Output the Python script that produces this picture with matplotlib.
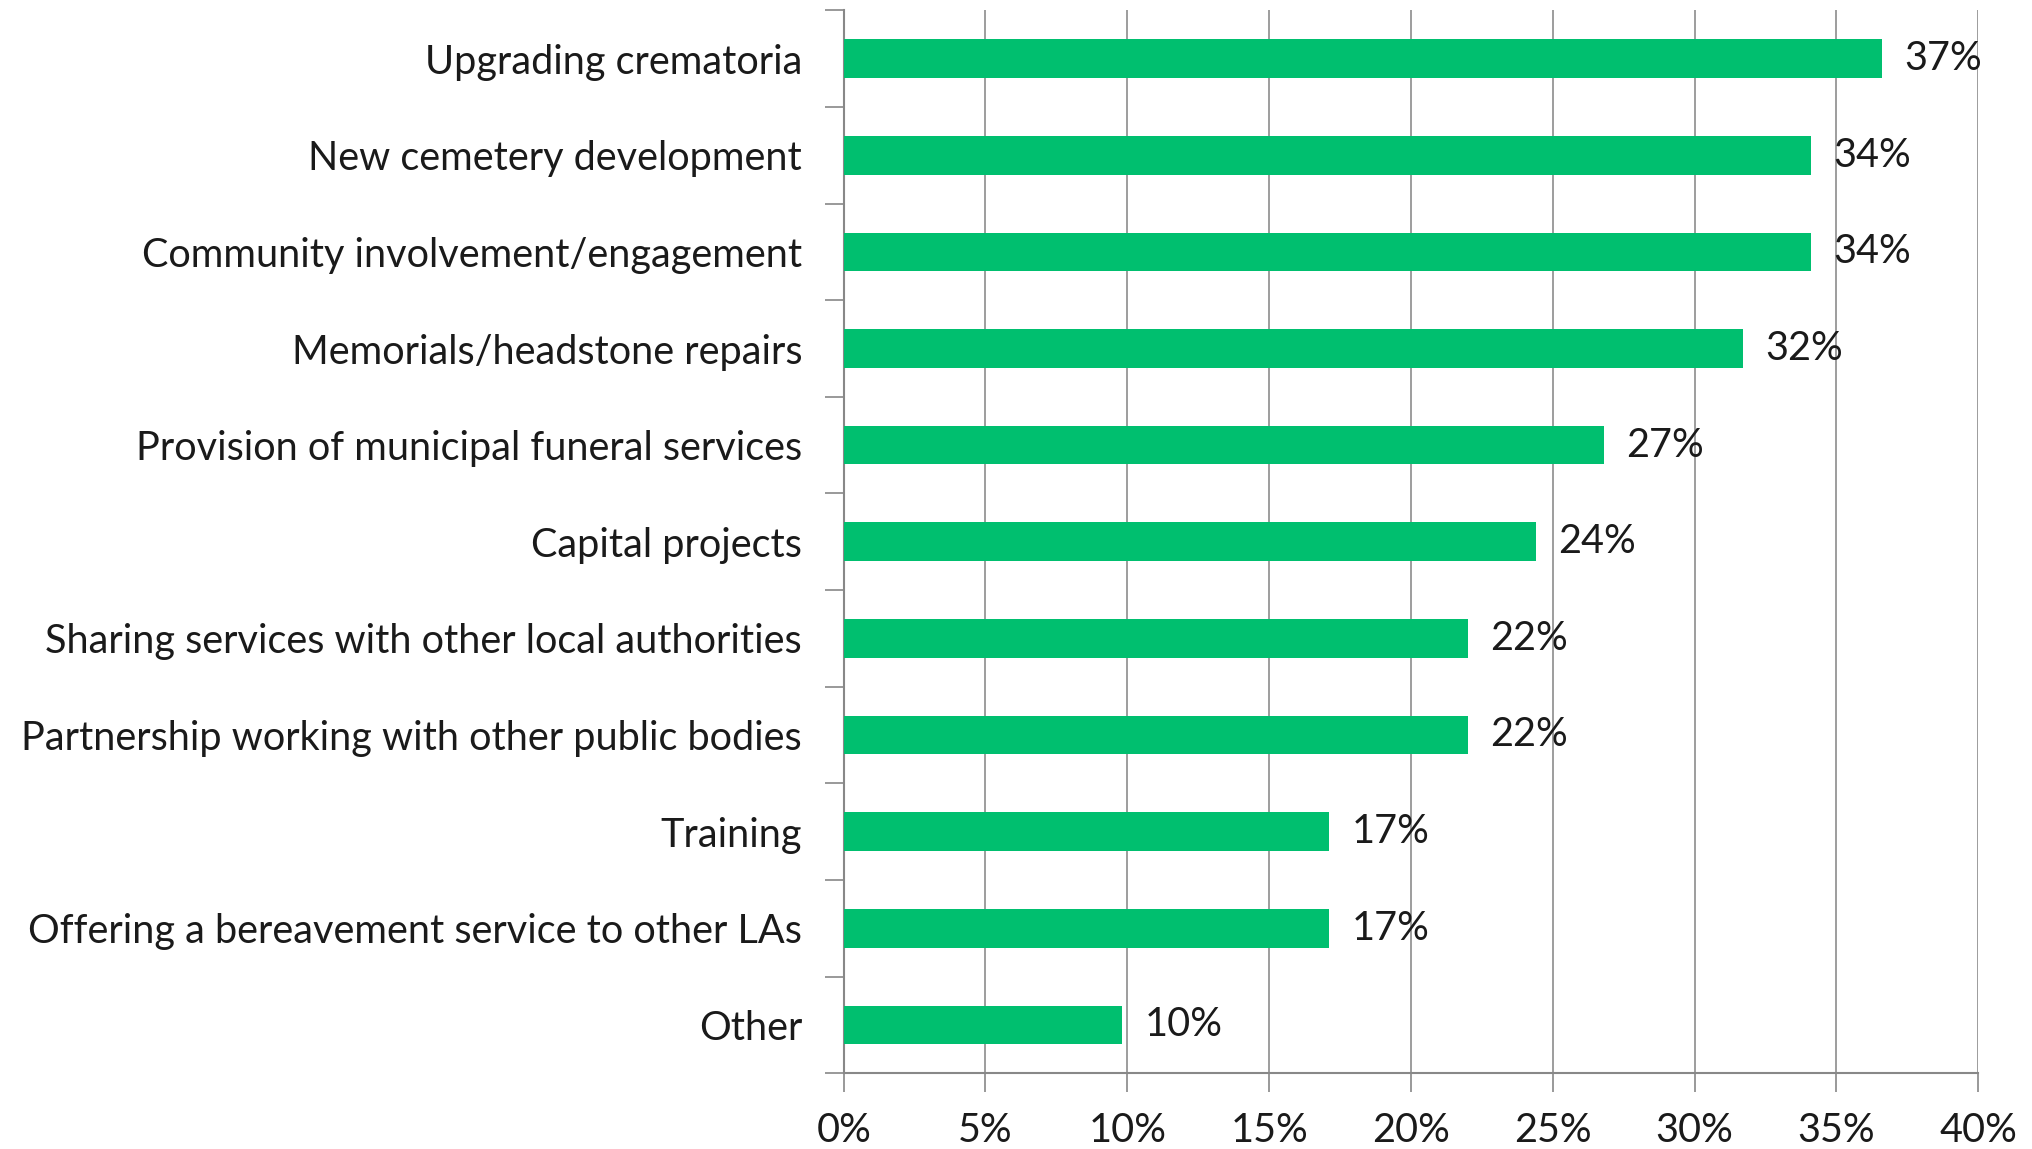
import matplotlib
matplotlib.use("Agg")
import matplotlib.pyplot as plt
from matplotlib.ticker import FuncFormatter, FixedLocator

# survey responses (share of respondents)
categories = [
    "Upgrading crematoria",
    "New cemetery development",
    "Community involvement/engagement",
    "Memorials/headstone repairs",
    "Provision of municipal funeral services",
    "Capital projects",
    "Sharing services with other local authorities",
    "Partnership working with other public bodies",
    "Training",
    "Offering a bereavement service to other LAs",
    "Other",
]
values = [36.6, 34.1, 34.1, 31.7, 26.8, 24.4, 22.0, 22.0, 17.1, 17.1, 9.8]
labels = ["37%", "34%", "34%", "32%", "27%", "24%", "22%", "22%", "17%", "17%", "10%"]
x_ticks = [0, 5, 10, 15, 20, 25, 30, 35, 40]

plt.rcParams['font.family'] = ['Lato', 'DejaVu Sans']
fs = 28.5

fig = plt.figure(figsize=(20.33, 11.49), dpi=100)
ax = fig.add_axes([0.415, 0.066, 0.558, 0.925])

pos = list(range(len(categories)))
ax.barh(pos, values, height=0.4, color='#00BF6F', zorder=3)
for p, v, lab in zip(pos, values, labels):
    ax.text(v + 0.8, p, lab, va='center', ha='left', fontsize=fs, color='#1a1a1a', zorder=4)

ax.set_ylim(len(categories) - 0.5, -0.5)
ax.set_xlim(0, 40)
ax.set_yticks(pos)
ax.set_yticklabels(categories, fontsize=fs, color='#1a1a1a')
ax.yaxis.set_minor_locator(FixedLocator([p - 0.5 for p in pos] + [len(pos) - 0.5]))
ax.tick_params(axis='y', which='major', length=0, pad=30)
ax.tick_params(axis='y', which='minor', length=14, color='#888888', width=1.2)

ax.set_xticks(x_ticks)
ax.xaxis.set_major_formatter(FuncFormatter(lambda x, _: f"{x:.0f}%"))
ax.tick_params(axis='x', length=14, color='#888888', width=1.2, labelsize=fs, pad=14, labelcolor='#1a1a1a')

ax.grid(axis='x', color='#8c8c8c', linewidth=1.2, zorder=0)
for s in ['top', 'right']:
    ax.spines[s].set_visible(False)
for s in ['left', 'bottom']:
    ax.spines[s].set_color('#888888')
    ax.spines[s].set_linewidth(1.5)

fig.savefig("out.png", dpi=100)
